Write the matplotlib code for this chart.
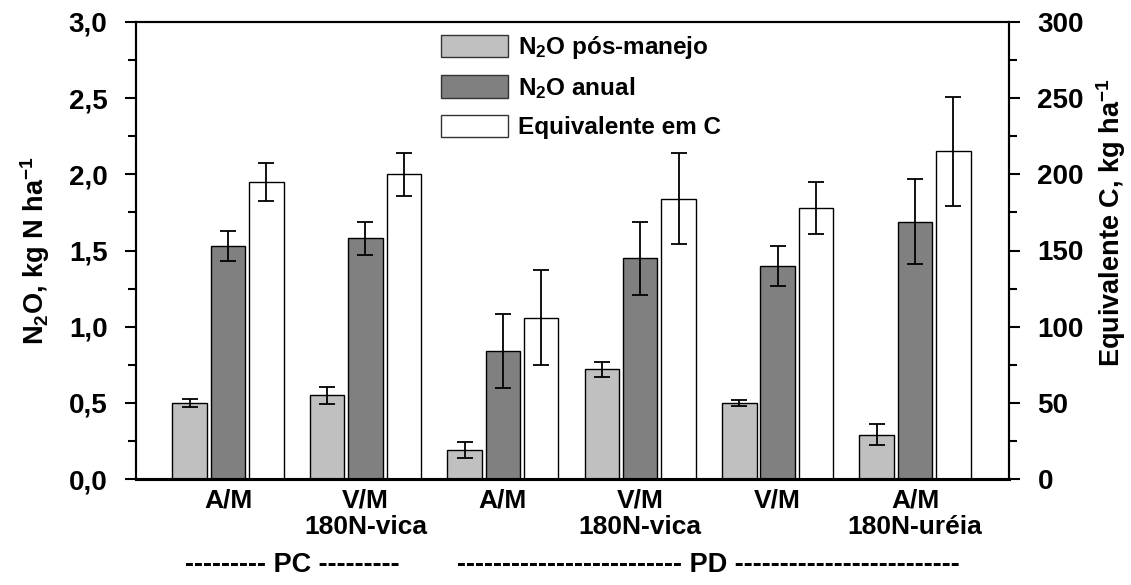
import numpy as np
import matplotlib
matplotlib.use("Agg")
import matplotlib.pyplot as plt
from matplotlib.ticker import MultipleLocator, FuncFormatter
from matplotlib.patches import Patch

plt.rcParams['font.family'] = ['Liberation Sans', 'DejaVu Sans']
plt.rcParams['font.weight'] = 'bold'
plt.rcParams['axes.labelweight'] = 'bold'
plt.rcParams['mathtext.fontset'] = 'custom'
plt.rcParams['mathtext.rm'] = 'Liberation Sans:bold'
plt.rcParams['mathtext.bf'] = 'Liberation Sans:bold'
plt.rcParams['mathtext.default'] = 'bf'

# Treatments (x axis)
categories = ["A/M", "V/M\n180N-vica", "A/M", "V/M\n180N-vica", "V/M", "A/M\n180N-uréia"]

# N2O after management (kg N/ha) and error
n2o_pos = [0.50, 0.55, 0.19, 0.72, 0.50, 0.29]
n2o_pos_err = [0.025, 0.055, 0.05, 0.05, 0.02, 0.07]

# Annual N2O (kg N/ha) and error
n2o_anual = [1.53, 1.58, 0.84, 1.45, 1.40, 1.69]
n2o_anual_err = [0.10, 0.11, 0.24, 0.24, 0.13, 0.28]

# C equivalent (kg C/ha, right axis) and error
equiv_c = [195, 200, 106, 184, 178, 215]
equiv_c_err = [12.5, 14, 31, 30, 17, 36]

legend_labels = ["N$_2$O pós-manejo", "N$_2$O anual", "Equivalente em C"]
colors = ["#c0c0c0", "#808080", "#ffffff"]

W, H = 1131, 585
fig = plt.figure(figsize=(W / 100, H / 100), dpi=100)
ax = fig.add_axes([136 / W, 1 - 479 / H, 873 / W, 457 / H])
ax2 = ax.twinx()

x = np.arange(len(categories))
w = 0.251
off = 0.279
err_kw = dict(ecolor="black", elinewidth=1.3, capsize=5.5, capthick=1.3)

ax.bar(x - off, n2o_pos, w, yerr=n2o_pos_err, color=colors[0],
       edgecolor="black", linewidth=1.0, error_kw=err_kw, zorder=2)
ax.bar(x, n2o_anual, w, yerr=n2o_anual_err, color=colors[1],
       edgecolor="black", linewidth=1.0, error_kw=err_kw, zorder=2)
ax2.bar(x + off, equiv_c, w, yerr=equiv_c_err, color=colors[2],
        edgecolor="black", linewidth=1.0, error_kw=err_kw, zorder=2)

ax.set_xlim(-0.67, 5.684)
ax.set_ylim(0, 3.0)
ax2.set_ylim(0, 300)

fs_tick = 20
fs_cat = 19
fs_lab = 19.5
ax.yaxis.set_major_locator(MultipleLocator(0.5))
ax.yaxis.set_minor_locator(MultipleLocator(0.25))
ax.yaxis.set_major_formatter(FuncFormatter(lambda v, p: f"{v:.1f}".replace(".", ",")))
ax2.yaxis.set_major_locator(MultipleLocator(50))
ax2.yaxis.set_minor_locator(MultipleLocator(25))

for a in (ax, ax2):
    a.tick_params(axis="y", which="major", length=8, width=1.5,
                  labelsize=fs_tick, pad=12.5)
    a.tick_params(axis="y", which="minor", length=5.5, width=1.5)
    for s in a.spines.values():
        s.set_linewidth(1.5)
    a.spines["bottom"].set_linewidth(2.2)

ax.set_xticks(x)
ax.set_xticklabels(categories, fontsize=fs_cat, linespacing=1.16)
ax.tick_params(axis="x", length=0, pad=6.5)

ax.set_ylabel("N$_2$O, kg N ha$^{-1}$", fontsize=fs_lab)
ax.yaxis.set_label_coords((52 - 136) / 873, 0.5)
ax2.set_ylabel("Equivalente C, kg ha$^{-1}$", fontsize=fs_lab)
ax2.yaxis.set_label_coords((1094 - 136) / 873, 0.56)

handles = [Patch(facecolor=c, edgecolor="#333333", linewidth=1.0) for c in colors]
fig.legend(handles, legend_labels, loc="upper left",
           bbox_to_anchor=(441 / W, 1 - 34 / H), frameon=False,
           fontsize=17.5, handlelength=2.76, handleheight=1.03,
           labelspacing=0.57, handletextpad=0.41, borderpad=0, borderaxespad=0)

fig.text(292 / W, 1 - 565 / H, "--------- PC ---------", ha="center", va="center",
         fontsize=fs_lab)
fig.text(708 / W, 1 - 565 / H,
         "------------------------- PD -------------------------",
         ha="center", va="center", fontsize=fs_lab)

fig.savefig("out.png", dpi=100)
